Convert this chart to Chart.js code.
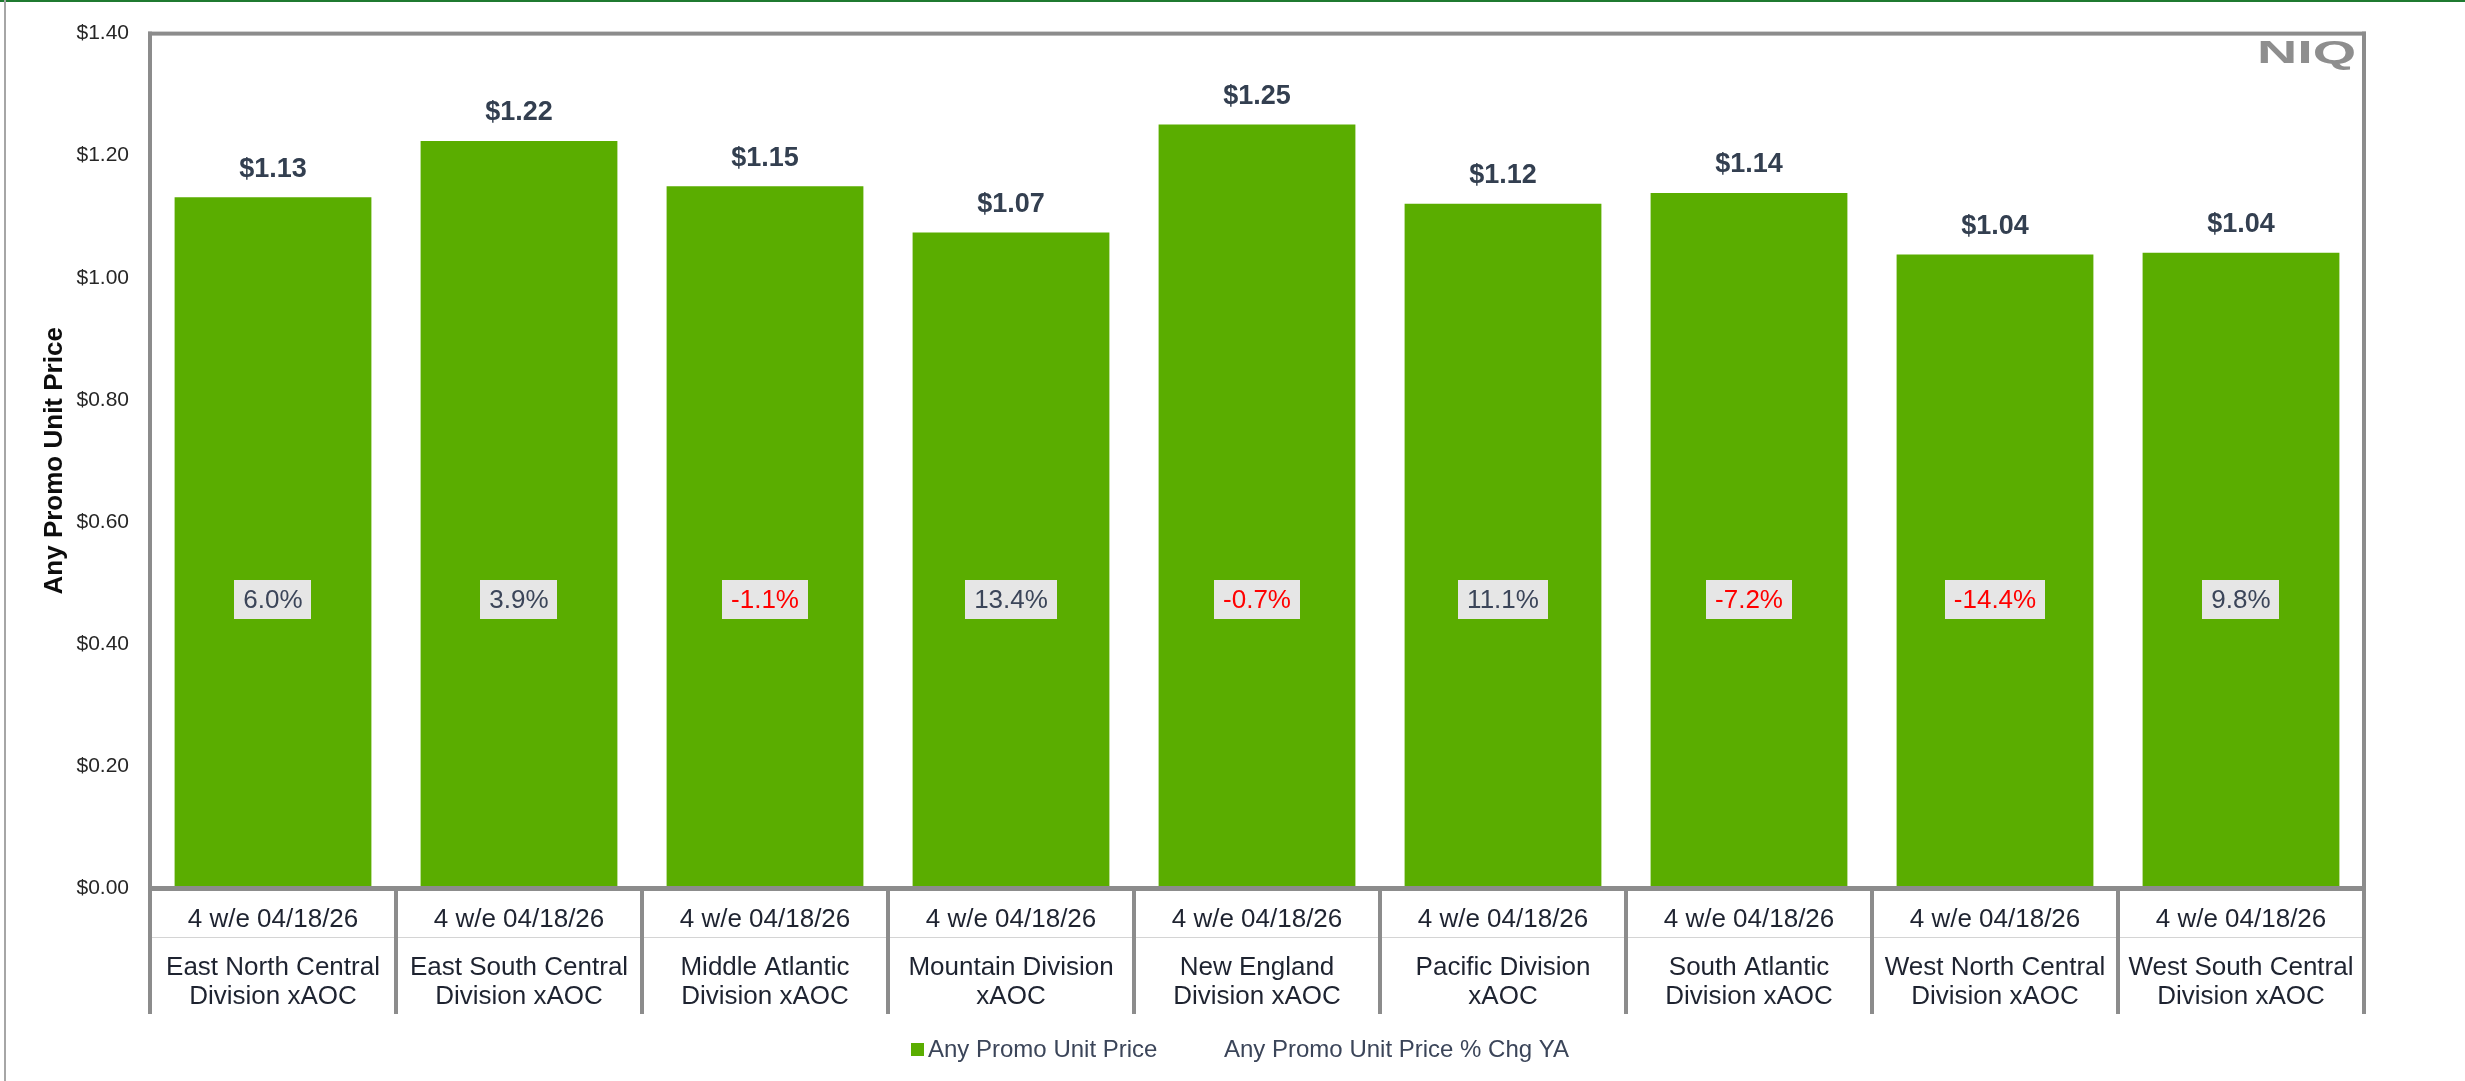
<!DOCTYPE html>
<html>
<head>
<meta charset="utf-8">
<script src="https://cdn.jsdelivr.net/npm/chart.js@4"></script>
<style>
  html, body { margin: 0; padding: 0; background: #ffffff; }
  #wrap { position: relative; width: 2465px; height: 1081px; }
</style>
</head>
<body>
<div id="wrap"><canvas id="c" width="2465" height="1081"></canvas></div>
<script>
// ---- data ----
const periods = ['4 w/e 04/18/26','4 w/e 04/18/26','4 w/e 04/18/26','4 w/e 04/18/26','4 w/e 04/18/26','4 w/e 04/18/26','4 w/e 04/18/26','4 w/e 04/18/26','4 w/e 04/18/26'];
const markets = [
  ['East North Central','Division xAOC'],
  ['East South Central','Division xAOC'],
  ['Middle Atlantic','Division xAOC'],
  ['Mountain Division','xAOC'],
  ['New England','Division xAOC'],
  ['Pacific Division','xAOC'],
  ['South Atlantic','Division xAOC'],
  ['West North Central','Division xAOC'],
  ['West South Central','Division xAOC']
];
const promoPrice = [1.132, 1.224, 1.150, 1.074, 1.251, 1.121, 1.139, 1.038, 1.041];
const promoPriceChgYA = [6.0, 3.9, -1.1, 13.4, -0.7, 11.1, -7.2, -14.4, 9.8];
const yTickValues = [0, 0.2, 0.4, 0.6, 0.8, 1.0, 1.2, 1.4];
const seriesNames = ['Any Promo Unit Price', 'Any Promo Unit Price % Chg YA'];
const yAxisTitle = 'Any Promo Unit Price';

const FONT = "'Liberation Sans', Arial, sans-serif";
const GREEN = '#5aad00';
const FRAME = '#8c8c8c';
const LABEL_LEVEL = 0.473; // where the % change labels sit on the price scale

Chart.defaults.font.family = FONT;

const decor = {
  id: 'decor',
  beforeDraw(chart) {
    const ctx = chart.ctx;
    ctx.save();
    ctx.fillStyle = '#ffffff';
    ctx.fillRect(0, 0, chart.width, chart.height);
    // page frame lines
    ctx.fillStyle = '#1f7a30';
    ctx.fillRect(0, 0, chart.width, 2);
    ctx.fillStyle = '#a6a6a6';
    ctx.fillRect(4, 0, 2, chart.height);
    ctx.restore();
  },
  afterDatasetsDraw(chart) {
    const ctx = chart.ctx;
    const x = chart.scales.x, y = chart.scales.y;
    const a = chart.chartArea;
    const n = markets.length;
    const step = x.getPixelForValue(1) - x.getPixelForValue(0);
    const boxBottom = 1014;
    ctx.save();

    // row divider in category box
    ctx.fillStyle = '#d4d4d4';
    ctx.fillRect(a.left, 937, a.right - a.left, 1);

    // frame
    ctx.fillStyle = FRAME;
    ctx.fillRect(a.left - 2, a.top - 2, a.right - a.left + 4, 4);       // top
    ctx.fillRect(a.left - 2, a.top - 2, 4, boxBottom - a.top + 2);       // left
    ctx.fillRect(a.right - 2, a.top - 2, 4, boxBottom - a.top + 2);      // right
    ctx.fillRect(a.left - 2, a.bottom - 2, a.right - a.left + 4, 5);     // axis
    for (let i = 1; i < n; i++) {
      const bx = x.getPixelForValue(i) - step / 2;
      ctx.fillRect(bx - 2, a.bottom, 4, boxBottom - a.bottom);
    }

    // category labels
    ctx.fillStyle = '#1e2330';
    ctx.font = '26px ' + FONT;
    ctx.textAlign = 'center';
    ctx.textBaseline = 'middle';
    for (let i = 0; i < n; i++) {
      const cx = x.getPixelForValue(i);
      ctx.fillText(periods[i], cx, 920);
      ctx.fillText(markets[i][0], cx, 968);
      ctx.fillText(markets[i][1], cx, 997);
    }

    // value labels on bars
    const meta = chart.getDatasetMeta(0);
    ctx.font = 'bold 27px ' + FONT;
    ctx.fillStyle = '#333f50';
    meta.data.forEach((bar, i) => {
      ctx.fillText('$' + promoPrice[i].toFixed(2), bar.x, bar.y - 28);
    });

    // % change labels
    const meta2 = chart.getDatasetMeta(1);
    const ly = y.getPixelForValue(LABEL_LEVEL);
    ctx.font = '26px ' + FONT;
    meta2.data.forEach((pt, i) => {
      const v = promoPriceChgYA[i];
      const txt = v.toFixed(1) + '%';
      const w = ctx.measureText(txt).width + 18;
      const h = 39;
      const cx = meta.data[i].x;
      ctx.fillStyle = '#e6e6e6';
      ctx.fillRect(Math.round(cx - w / 2), Math.round(ly - h / 2), Math.round(w), h);
      ctx.fillStyle = v < 0 ? '#ff0000' : '#3b4559';
      ctx.fillText(txt, cx, ly + 1);
    });

    // legend
    ctx.textAlign = 'left';
    ctx.fillStyle = GREEN;
    ctx.fillRect(911, 1043, 13, 13);
    ctx.font = '24px ' + FONT;
    ctx.fillStyle = '#3b4559';
    ctx.fillText(seriesNames[0], 928, 1050);
    ctx.fillText(seriesNames[1], 1224, 1050);

    // NIQ mark
    ctx.save();
    ctx.fillStyle = '#8e8e8e';
    ctx.font = 'bold 31px ' + FONT;
    ctx.textAlign = 'left';
    ctx.textBaseline = 'alphabetic';
    ctx.translate(2257, 63);
    ctx.scale(1.8, 1);
    ctx.fillText('NIQ', 0, 0);
    ctx.restore();

    ctx.restore();
  }
};

new Chart(document.getElementById('c'), {
  type: 'bar',
  data: {
    labels: markets.map(m => m.join(' ')),
    datasets: [
      {
        type: 'bar',
        label: seriesNames[0],
        data: promoPrice,
        backgroundColor: GREEN,
        borderWidth: 0,
        categoryPercentage: 0.8,
        barPercentage: 1.0,
        yAxisID: 'y'
      },
      {
        type: 'line',
        label: seriesNames[1],
        data: promoPriceChgYA,
        showLine: false,
        pointRadius: 0,
        pointHitRadius: 0,
        borderColor: 'rgba(0,0,0,0)',
        backgroundColor: 'rgba(0,0,0,0)',
        yAxisID: 'y2'
      }
    ]
  },
  options: {
    responsive: false,
    devicePixelRatio: 1,
    animation: false,
    layout: { padding: { left: 0, top: 30, right: 101, bottom: 0 } },
    plugins: {
      legend: { display: false },
      tooltip: { enabled: false }
    },
    scales: {
      x: {
        grid: { display: false },
        border: { display: false },
        ticks: { display: false },
        afterFit(s) { s.height = 193; }
      },
      y: {
        min: 0,
        max: 1.4,
        afterBuildTicks(s) { s.ticks = yTickValues.map(v => ({ value: v })); },
        ticks: {
          padding: 21,
          color: '#262626',
          font: { size: 21, family: FONT },
          callback: v => '$' + Number(v).toFixed(2)
        },
        grid: { display: false, drawTicks: false },
        border: { display: false },
        title: {
          display: true,
          text: yAxisTitle,
          color: '#0d0d0d',
          font: { size: 26, weight: 'bold', family: FONT },
          padding: { top: 39, bottom: 0 }
        },
        afterFit(s) { s.width = 150; }
      },
      y2: {
        display: false,
        min: -20,
        max: 20
      }
    }
  },
  plugins: [decor]
});
</script>
</body>
</html>
